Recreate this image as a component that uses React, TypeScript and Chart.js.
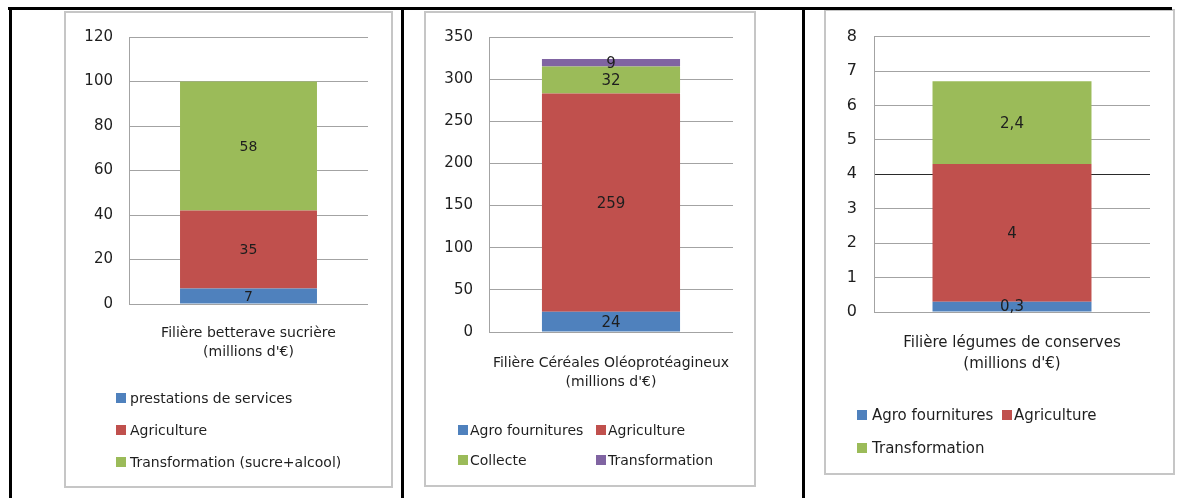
import React, { useEffect, useRef } from 'react';
import { Chart, registerables } from 'chart.js';

Chart.register(...registerables);

const FONT = '"DejaVu Sans", "Liberation Sans", sans-serif';
const COLORS = ['#4F81BD', '#C0504D', '#9BBB59', '#8064A2'];
const TEXT = '#1e1e1e';
const GRID = '#a3a3a3';

// ---- Data: Filière betterave sucrière ----
const beetCategory = ['Filière betterave sucrière', "(millions d'€)"];
const beetSeries = ['prestations de services', 'Agriculture', 'Transformation (sucre+alcool)'];
const beetValues = [7, 35, 58];
const beetTicks = [0, 20, 40, 60, 80, 100, 120];

// ---- Data: Filière Céréales Oléoprotéagineux ----
const cerealCategory = ['Filière Céréales Oléoprotéagineux', "(millions d'€)"];
const cerealSeries = ['Agro fournitures', 'Agriculture', 'Collecte', 'Transformation'];
const cerealValues = [24, 259, 32, 9];
const cerealTicks = [0, 50, 100, 150, 200, 250, 300, 350];

// ---- Data: Filière légumes de conserves ----
const vegCategory = ['Filière légumes de conserves', "(millions d'€)"];
const vegSeries = ['Agro fournitures', 'Agriculture', 'Transformation'];
const vegValues = [0.3, 4, 2.4];
const vegTicks = [0, 1, 2, 3, 4, 5, 6, 7, 8];

type PanelSpec = {
  category: string[];
  series: string[];
  values: number[];
  ticks: number[];
  box: { left: number; top: number; width: number; height: number };
  padding: { top: number; right: number; bottom: number; left: number };
  yWidth: number;
  xHeight: number;
  yTickPad: number;
  xTickPad: number;
  tickSize: number;
  textSize: number;
  lineHeight: number;
  labelSize: number;
  barFrac: number;
  comma: boolean;
  darkLine?: number;
  legend: { box: number; text: number; y: number }[];
};

function makeLabelPlugin(size: number, comma: boolean) {
  return {
    id: 'valueLabels',
    afterDatasetsDraw(chart: any) {
      const ctx = chart.ctx;
      ctx.save();
      ctx.font = `${size}px ${FONT}`;
      ctx.fillStyle = TEXT;
      ctx.textAlign = 'center';
      ctx.textBaseline = 'middle';
      chart.data.datasets.forEach((ds: any, i: number) => {
        const meta = chart.getDatasetMeta(i);
        meta.data.forEach((el: any, j: number) => {
          const v = ds.data[j];
          const p = el.getProps(['x', 'y', 'base'], true);
          const txt = comma ? String(v).replace('.', ',') : String(v);
          ctx.fillText(txt, p.x, (p.y + p.base) / 2 + 1);
        });
      });
      ctx.restore();
    },
  };
}

function ChartPanel({ spec }: { spec: PanelSpec }) {
  const ref = useRef<HTMLCanvasElement | null>(null);
  useEffect(() => {
    if (!ref.current) return;
    const s = spec;
    const chart = new Chart(ref.current, {
      type: 'bar',
      data: {
        labels: [s.category],
        datasets: s.series.map((name, i) => ({
          label: name,
          data: [s.values[i]],
          backgroundColor: COLORS[i],
          borderWidth: 0,
          categoryPercentage: s.barFrac,
          barPercentage: 1,
        })),
      },
      options: {
        animation: false,
        responsive: false,
        maintainAspectRatio: false,
        layout: { padding: s.padding },
        plugins: { legend: { display: false }, tooltip: { enabled: false } },
        scales: {
          x: {
            stacked: true,
            grid: { display: false, drawTicks: false },
            border: { display: false },
            ticks: {
              font: { family: FONT, size: s.textSize, lineHeight: s.lineHeight },
              color: TEXT,
              padding: s.xTickPad,
              maxRotation: 0,
              minRotation: 0,
              autoSkip: false,
            },
            afterFit: (sc: any) => {
              sc.height = s.xHeight;
              sc.paddingLeft = 0;
              sc.paddingRight = 0;
            },
          },
          y: {
            stacked: true,
            min: s.ticks[0],
            max: s.ticks[s.ticks.length - 1],
            afterBuildTicks: (sc: any) => {
              sc.ticks = s.ticks.map((v) => ({ value: v }));
            },
            grid: {
              drawTicks: false,
              lineWidth: 1,
              color: (c: any) =>
                s.darkLine !== undefined && c.tick && c.tick.value === s.darkLine ? '#2a2a2a' : GRID,
            },
            border: { display: true, color: GRID, width: 1 },
            ticks: {
              font: { family: FONT, size: s.tickSize },
              color: TEXT,
              padding: s.yTickPad,
            },
            afterFit: (sc: any) => {
              sc.width = s.yWidth;
            },
          },
        },
      } as any,
      plugins: [makeLabelPlugin(s.labelSize, s.comma)],
    });
    return () => chart.destroy();
  }, [spec]);

  const b = spec.box;
  return (
    <>
      <div
        style={{
          position: 'absolute',
          left: b.left - 1,
          top: b.top - 1,
          width: b.width,
          height: b.height,
          border: '2px solid #c6c6c6',
          background: '#fff',
        }}
      />
      <canvas
        ref={ref}
        width={b.width}
        height={b.height}
        style={{ position: 'absolute', left: b.left, top: b.top, width: b.width, height: b.height }}
      />
      {spec.legend.map((it, i) => (
        <div
          key={i}
          style={{
            position: 'absolute',
            left: it.box,
            top: it.y - 9,
            height: 18,
            display: 'flex',
            alignItems: 'center',
            whiteSpace: 'nowrap',
            fontFamily: FONT,
            fontSize: spec.textSize,
            color: TEXT,
          }}
        >
          <span style={{ width: 10, height: 10, background: COLORS[i], display: 'inline-block' }} />
          <span style={{ position: 'absolute', left: it.text - it.box, lineHeight: '18px' }}>{spec.series[i]}</span>
        </div>
      ))}
    </>
  );
}

const panels: PanelSpec[] = [
  {
    category: beetCategory,
    series: beetSeries,
    values: beetValues,
    ticks: beetTicks,
    box: { left: 65, top: 12, width: 325, height: 473 },
    padding: { top: 19, right: 22, bottom: 121, left: 0 },
    yWidth: 64,
    xHeight: 60,
    yTickPad: 16,
    xTickPad: 20,
    tickSize: 15,
    textSize: 14,
    lineHeight: 1.36,
    labelSize: 14,
    barFrac: 0.573,
    comma: false,
    legend: [
      { box: 116, text: 130, y: 398 },
      { box: 116, text: 130, y: 430 },
      { box: 116, text: 130, y: 462 },
    ],
  },
  {
    category: cerealCategory,
    series: cerealSeries,
    values: cerealValues,
    ticks: cerealTicks,
    box: { left: 425, top: 12, width: 328, height: 472 },
    padding: { top: 19, right: 20, bottom: 92, left: 0 },
    yWidth: 64,
    xHeight: 60,
    yTickPad: 16,
    xTickPad: 22,
    tickSize: 15,
    textSize: 14,
    lineHeight: 1.36,
    labelSize: 15,
    barFrac: 0.566,
    comma: false,
    legend: [
      { box: 458, text: 470, y: 430 },
      { box: 596, text: 608, y: 430 },
      { box: 458, text: 470, y: 460 },
      { box: 596, text: 608, y: 460 },
    ],
  },
  {
    category: vegCategory,
    series: vegSeries,
    values: vegValues,
    ticks: vegTicks,
    box: { left: 825, top: 10, width: 347, height: 462 },
    padding: { top: 23, right: 22, bottom: 96, left: 0 },
    yWidth: 49,
    xHeight: 64,
    yTickPad: 17,
    xTickPad: 21,
    tickSize: 16,
    textSize: 15,
    lineHeight: 1.4,
    labelSize: 15,
    barFrac: 0.576,
    comma: true,
    darkLine: 4,
    legend: [
      { box: 857, text: 872, y: 415 },
      { box: 1002, text: 1014, y: 415 },
      { box: 857, text: 872, y: 448 },
    ],
  },
];

export default function App() {
  return (
    <div
      style={{
        position: 'absolute',
        left: 0,
        top: 0,
        width: 1177,
        height: 498,
        background: '#fff',
        overflow: 'hidden',
      }}
    >
      {panels.map((p, i) => (
        <ChartPanel key={i} spec={p} />
      ))}
      {/* table borders */}
      <div style={{ position: 'absolute', left: 8, top: 7, width: 1164, height: 3, background: '#000' }} />
      <div style={{ position: 'absolute', left: 9, top: 7, width: 3, height: 491, background: '#000' }} />
      <div style={{ position: 'absolute', left: 401, top: 7, width: 3, height: 491, background: '#000' }} />
      <div style={{ position: 'absolute', left: 802, top: 7, width: 3, height: 491, background: '#000' }} />
    </div>
  );
}
